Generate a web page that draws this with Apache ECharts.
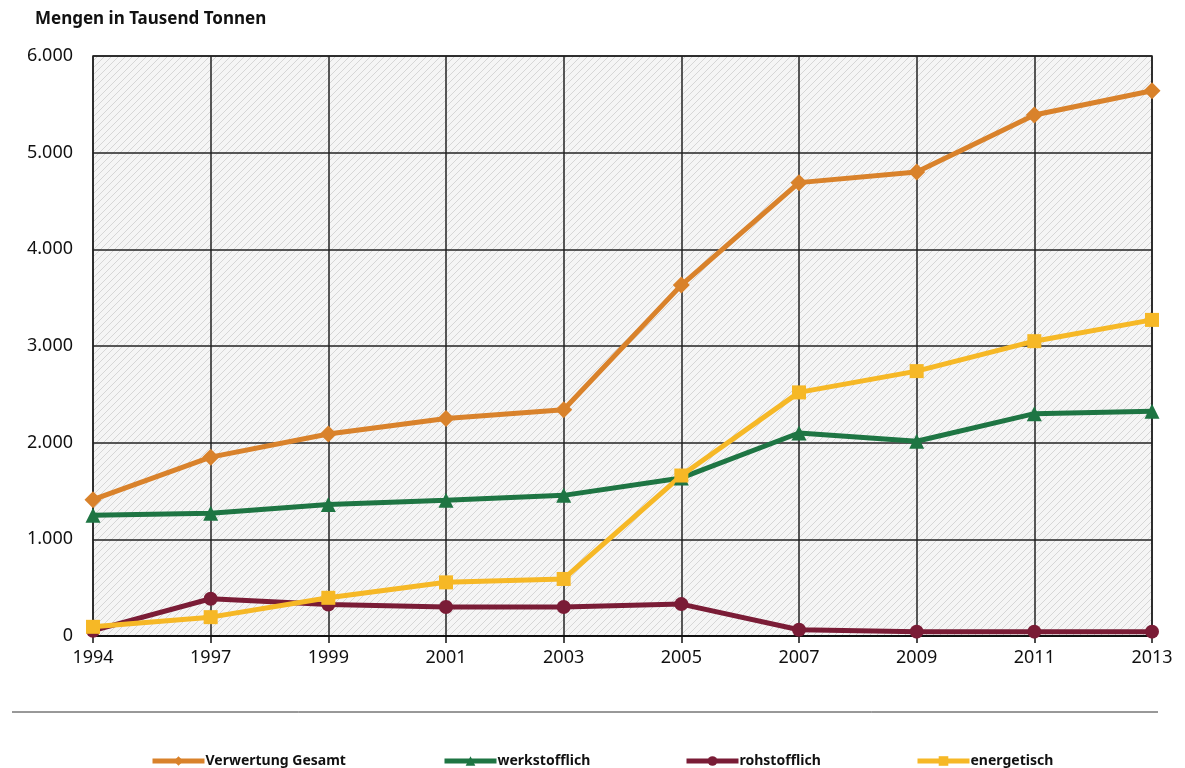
<!DOCTYPE html>
<html lang="de">
  <head>
    <meta charset="UTF-8" />
    <title>Mengen in Tausend Tonnen</title>
    <style>
      html,
      body {
        margin: 0;
        padding: 0;
        background: #fff;
      }
      #chart {
        width: 1185px;
        height: 768px;
      }
    </style>
  </head>
  <body>
    <div id="chart"></div>
    <script src="https://cdn.jsdelivr.net/npm/echarts@6/dist/echarts.min.js"></script>
    <script>
      const years = ["1994", "1997", "1999", "2001", "2003", "2005", "2007", "2009", "2011", "2013"];
      const gesamt = [1410, 1850, 2090, 2250, 2340, 3630, 4690, 4800, 5390, 5640];
      const werkstofflich = [1250, 1270, 1360, 1405, 1455, 1635, 2100, 2015, 2300, 2325];
      const rohstofflich = [55, 385, 325, 300, 300, 330, 65, 45, 45, 45];
      const energetisch = [95, 195, 395, 555, 590, 1660, 2520, 2740, 3050, 3270];

      // hatch pattern for the plot background
      const pat = document.createElement("canvas");
      pat.width = 7;
      pat.height = 7;
      const ctx = pat.getContext("2d");
      ctx.fillStyle = "#f5f5f5";
      ctx.fillRect(0, 0, 7, 7);
      ctx.strokeStyle = "#d6d6d6";
      ctx.lineWidth = 1;
      ctx.beginPath();
      ctx.moveTo(-1, 8);
      ctx.lineTo(8, -1);
      ctx.moveTo(-1, 1);
      ctx.lineTo(1, -1);
      ctx.moveTo(6, 8);
      ctx.lineTo(8, 6);
      ctx.stroke();

      const font = "'Noto Sans', sans-serif";
      const series = [
        { name: "Verwertung Gesamt", data: gesamt, color: "#d9822b", symbol: "diamond", size: 17 },
        { name: "werkstofflich", data: werkstofflich, color: "#1e7543", symbol: "triangle", size: 15 },
        { name: "rohstofflich", data: rohstofflich, color: "#7a1c36", symbol: "circle", size: 14 },
        { name: "energetisch", data: energetisch, color: "#f6b826", symbol: "rect", size: 14 },
      ];
      const legendLeft = [145, 437, 679, 910];

      const chart = echarts.init(document.getElementById("chart"));
      chart.setOption({
        animation: false,
        title: {
          text: "Mengen in Tausend Tonnen",
          left: 30,
          top: 6,
          textStyle: { fontFamily: font, fontSize: 17, fontWeight: "bold", color: "#111" },
        },
        grid: {
          left: 93,
          right: 33,
          top: 56,
          bottom: 132,
          show: true,
          backgroundColor: { image: pat, repeat: "repeat" },
          borderColor: "#222",
          borderWidth: 1.5,
        },
        legend: series.map((s, i) => ({
          data: [s.name],
          left: legendLeft[i],
          top: 749,
          itemWidth: 52,
          itemHeight: 12,
          itemGap: 0,
          lineStyle: { width: 5 },
          textStyle: { fontFamily: font, fontSize: 14, fontWeight: "bold", color: "#111", padding: [0, 0, 0, -4] },
        })),
        graphic: [
          {
            type: "line",
            shape: { x1: 12, y1: 712, x2: 1158, y2: 712 },
            style: { stroke: "#333", lineWidth: 1 },
          },
        ],
        xAxis: {
          type: "category",
          data: years,
          boundaryGap: false,
          axisLine: { lineStyle: { color: "#111", width: 2 } },
          axisTick: { show: true, length: 7, lineStyle: { color: "#111", width: 1.5 } },
          axisLabel: { fontFamily: font, fontSize: 18, color: "#111", margin: 13 },
          splitLine: { show: true, lineStyle: { color: "#222", width: 1.5 } },
        },
        yAxis: {
          type: "value",
          min: 0,
          max: 6000,
          interval: 1000,
          axisLine: { show: false },
          axisTick: { show: false },
          axisLabel: {
            fontFamily: font,
            fontSize: 18,
            color: "#111",
            margin: 20,
            formatter: (v) => (v === 0 ? "0" : (v / 1000).toFixed(0) + ".000"),
          },
          splitLine: { lineStyle: { color: "#222", width: 1.5 } },
        },
        series: series.map((s) => ({
          name: s.name,
          type: "line",
          data: s.data,
          symbol: s.symbol,
          symbolSize: s.size,
          showAllSymbol: true,
          itemStyle: { color: s.color },
          lineStyle: { color: s.color, width: 5 },
        })),
      });
    </script>
  </body>
</html>
